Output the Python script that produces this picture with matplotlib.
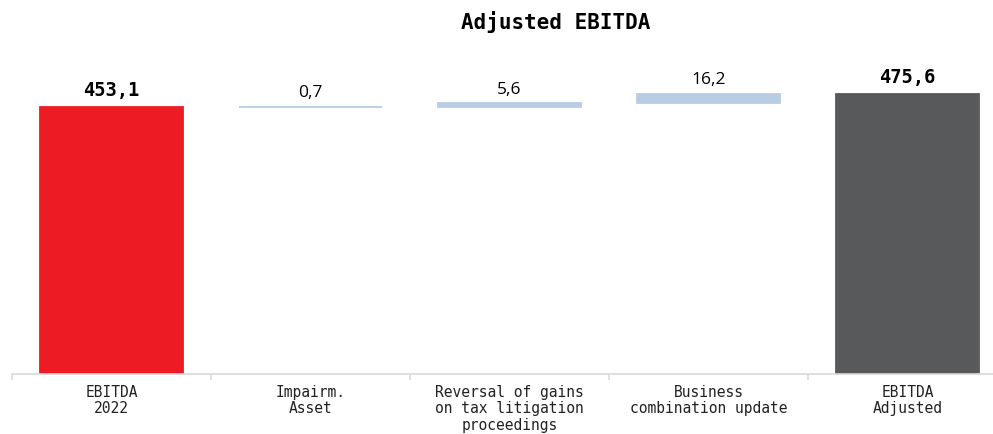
import numpy as np
import matplotlib.pyplot as plt

categories = ["EBITDA\n2022", "Impairm.\nAsset", "Reversal of gains\non tax litigation\nproceedings",
              "Business\ncombination update", "EBITDA\nAdjusted"]
start_value = 453.1
adjustments = [0.7, 5.6, 16.2]
end_value = 475.6
value_labels = ["453,1", "0,7", "5,6", "16,2", "475,6"]

red = "#ED1C24"
dark = "#58595B"
light = "#B8CCE4"
axis_grey = "#D9D9D9"

fig = plt.figure(figsize=(9.93, 4.34), dpi=100)
# axes runs slightly past the right edge, like the original
ax = fig.add_axes([12 / 993, 1 - 374 / 434, 995 / 993, 324 / 434])

x = np.arange(len(categories))
width = 0.715

# waterfall bottoms / heights
bottoms = [0]
heights = [start_value]
running = start_value
for a in adjustments:
    bottoms.append(running)
    heights.append(a)
    running += a
bottoms.append(0)
heights.append(end_value)
colors = [red] + [light] * len(adjustments) + [dark]

ax.bar(x, heights, bottom=bottoms, width=width, color=colors, edgecolor=colors, linewidth=1.3)

for i, (b, h, lab) in enumerate(zip(bottoms, heights, value_labels)):
    top = b + h
    if i == 0 or i == len(x) - 1:
        ax.annotate(lab, (x[i], top), xytext=(0, 5), textcoords="offset points",
                    ha="center", va="bottom", fontsize=13.5, fontweight="bold",
                    family="DejaVu Sans Mono", color="black")
    else:
        ax.annotate(lab, (x[i], top), xytext=(0, 4), textcoords="offset points",
                    ha="center", va="bottom", fontsize=12.5, family="Open Sans", color="black")

ax.set_xlim(-0.5, len(x) - 0.5)
ax.set_ylim(0, 550)

ax.set_xticks(x)
ax.set_xticklabels(categories, family="DejaVu Sans Mono", fontsize=10.5,
                   color="#222222", linespacing=1.1)
ax.tick_params(axis="x", which="major", length=0, pad=8)
ax.set_xticks(np.arange(-0.5, len(x), 1), minor=True)
ax.tick_params(axis="x", which="minor", length=4, color=axis_grey, width=1.2)
ax.set_yticks([])

for side in ["top", "right", "left"]:
    ax.spines[side].set_visible(False)
ax.spines["bottom"].set_color(axis_grey)
ax.spines["bottom"].set_linewidth(1.2)

fig.text(556 / 993, 1 - 22 / 434, "Adjusted EBITDA", ha="center", va="center",
         fontsize=15, fontweight="bold", family="DejaVu Sans Mono")

fig.savefig("out.png", dpi=100)
